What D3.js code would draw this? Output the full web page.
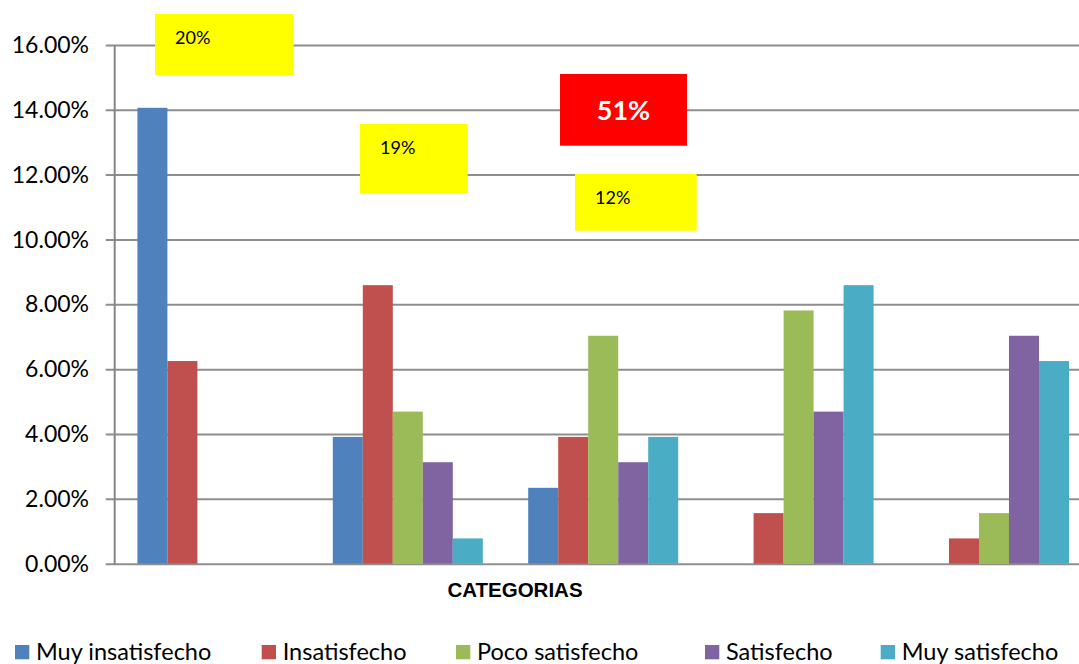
<!DOCTYPE html>
<html>
<head>
<meta charset="utf-8">
<script src="https://cdn.jsdelivr.net/npm/d3@7"></script>
<style>
  html, body { margin: 0; padding: 0; background: #fff; overflow: hidden; }
  svg { display: block; }
</style>
</head>
<body>
<svg id="chart" width="1079" height="664"></svg>
<script>
// Survey satisfaction shares per category group
const categories = ["1", "2", "3", "4", "5"];
const seriesNames = ["Muy insatisfecho", "Insatisfecho", "Poco satisfecho", "Satisfecho", "Muy satisfecho"];
const muyInsatisfecho = [0.1406, 0.0391, 0.0234, 0, 0];
const insatisfecho    = [0.0625, 0.0859, 0.0391, 0.0156, 0.0078];
const pocoSatisfecho  = [0, 0.0469, 0.0703, 0.0781, 0.0156];
const satisfecho      = [0, 0.0313, 0.0313, 0.0469, 0.0703];
const muySatisfecho   = [0, 0.0078, 0.0391, 0.0859, 0.0625];
const yTicks = [0, 0.02, 0.04, 0.06, 0.08, 0.10, 0.12, 0.14, 0.16];
const axisTitle = "CATEGORIAS";
const calloutLabels = ["20%", "19%", "51%", "12%"];

const seriesValues = [muyInsatisfecho, insatisfecho, pocoSatisfecho, satisfecho, muySatisfecho];
const colors = ["#4F81BD", "#C0504D", "#9BBB59", "#8064A2", "#4BACC6"];

const svg = d3.select("#chart");
const plot = { left: 114.7, right: 1091.7, top: 44.9, bottom: 563.7 };
const gridColor = "#8e8e8e";

const x = d3.scaleBand()
  .domain(categories)
  .range([plot.left, plot.right])
  .paddingInner(0.2323)
  .paddingOuter(0.1162);

const xInner = d3.scaleBand()
  .domain(seriesNames)
  .range([0, x.bandwidth()]);

const y = d3.scaleLinear()
  .domain([0, 0.16])
  .range([plot.bottom, plot.top]);

// Horizontal gridlines with left tick marks and percent labels
const yAxis = d3.axisLeft(y)
  .tickValues(yTicks)
  .tickFormat(d3.format(".2%"))
  .tickSize(-(plot.right - plot.left))
  .tickSizeOuter(0)
  .tickPadding(0);

const gy = svg.append("g")
  .attr("transform", `translate(${plot.left},0)`)
  .call(yAxis);
gy.select(".domain").remove();
gy.selectAll(".tick line")
  .attr("x1", -9)
  .attr("stroke", gridColor)
  .attr("stroke-width", 2);
gy.selectAll(".tick text")
  .attr("x", -25.7)
  .attr("dy", "0.33em")
  .attr("fill", "#000")
  .style("font-family", "Lato, 'Open Sans', sans-serif")
  .style("font-size", "23px");

// Vertical value axis line
svg.append("line")
  .attr("x1", plot.left).attr("x2", plot.left)
  .attr("y1", y(0.16)).attr("y2", y(0) + 1)
  .attr("stroke", "#868686")
  .attr("stroke-width", 2);

// Grouped bars
const groups = svg.append("g")
  .selectAll("g")
  .data(categories)
  .join("g")
  .attr("transform", d => `translate(${x(d)},0)`);

groups.selectAll("rect")
  .data((c, ci) => seriesNames.map((s, si) => ({ s, si, v: seriesValues[si][ci] })))
  .join("rect")
  .filter(d => d.v > 0)
  .attr("x", d => xInner(d.s))
  .attr("width", xInner.bandwidth())
  .attr("y", d => y(d.v))
  .attr("height", d => y(0) - y(d.v))
  .attr("fill", d => colors[d.si]);

// Category axis title
svg.append("text")
  .attr("x", 515)
  .attr("y", 597)
  .attr("text-anchor", "middle")
  .style("font-family", "'Liberation Sans', Arial, sans-serif")
  .style("font-weight", "bold")
  .style("font-size", "20.5px")
  .text(axisTitle);

// Callout boxes placed over the plot
const calloutLayout = [
  { x: 155, y: 14,  w: 138.7, h: 61,   fill: "#FFFF00", color: "#000", bold: false, size: 18, center: false },
  { x: 360, y: 124, w: 107.7, h: 69.7, fill: "#FFFF00", color: "#000", bold: false, size: 18, center: false },
  { x: 560, y: 74,  w: 127,   h: 71.7, fill: "#FF0000", color: "#fff", bold: true,  size: 27, center: true },
  { x: 575, y: 174, w: 121.7, h: 56.7, fill: "#FFFF00", color: "#000", bold: false, size: 18, center: false }
];

const callouts = svg.append("g")
  .selectAll("g")
  .data(calloutLabels)
  .join("g")
  .attr("transform", (d, i) => `translate(${calloutLayout[i].x},${calloutLayout[i].y})`);

callouts.append("rect")
  .attr("width", (d, i) => calloutLayout[i].w)
  .attr("height", (d, i) => calloutLayout[i].h)
  .attr("fill", (d, i) => calloutLayout[i].fill);

callouts.append("text")
  .attr("x", (d, i) => calloutLayout[i].center ? calloutLayout[i].w / 2 : 20)
  .attr("y", (d, i) => calloutLayout[i].center ? 46 : 30)
  .attr("text-anchor", (d, i) => calloutLayout[i].center ? "middle" : "start")
  .attr("fill", (d, i) => calloutLayout[i].color)
  .style("font-family", "Lato, 'Open Sans', sans-serif")
  .style("font-weight", (d, i) => calloutLayout[i].bold ? "bold" : "normal")
  .style("font-size", (d, i) => calloutLayout[i].size + "px")
  .text(d => d);

// Legend along the bottom edge
const legendX = [15, 261.7, 456, 705, 880.7];
const legend = svg.append("g")
  .selectAll("g")
  .data(seriesNames)
  .join("g")
  .attr("transform", (d, i) => `translate(${legendX[i]},0)`);

legend.append("rect")
  .attr("y", 645)
  .attr("width", 14.3).attr("height", 14.3)
  .attr("fill", (d, i) => colors[i]);

legend.append("text")
  .attr("x", 21)
  .attr("y", 660)
  .attr("fill", "#000")
  .style("font-family", "Lato, 'Open Sans', sans-serif")
  .style("font-size", "23.5px")
  .text(d => d);
</script>
</body>
</html>
